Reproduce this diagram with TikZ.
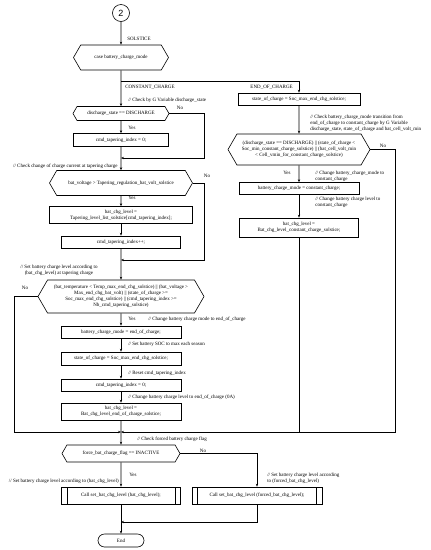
\documentclass[tikz,border=0pt]{standalone}
\usepackage{fontspec}
\setmainfont{Liberation Serif}
\setsansfont{Liberation Sans}
\usetikzlibrary{shapes.symbols,shapes.misc,arrows.meta}

\begin{document}
\begin{tikzpicture}[x=1pt,y=-1pt,line width=0.6pt,>={Stealth[length=3pt,width=2.4pt]},
        font=\fontsize{5}{6}\selectfont,
        box/.style={rectangle,draw,inner sep=1pt,align=center},
        dec/.style={signal,signal to=east and west,signal pointer angle=120,draw,inner sep=1pt,align=center},
        proc/.style={box,path picture={\draw ([xshift=5.5pt]path picture bounding box.north west) -- ([xshift=5.5pt]path picture bounding box.south west) ([xshift=-5.5pt]path picture bounding box.north east) -- ([xshift=-5.5pt]path picture bounding box.south east);}},
        term/.style={rounded rectangle,draw,inner sep=1pt},
        note/.style={inner sep=0pt,align=left}]
        \useasboundingbox (0,0) rectangle (431,550);
        \node [circle, draw, minimum size=17pt, inner sep=0pt, font=\sffamily\fontsize{9}{9}\selectfont] (1) at (121,13) {2};
        \node [dec, minimum width=95pt, minimum height=25pt] (2) at (121,57.5) {case battery\_charge\_mode};
        \node [box, minimum width=122pt, minimum height=12pt] (3) at (299,99) {state\_of\_charge = Soc\_max\_end\_chg\_solstice;};
        \node [dec, minimum width=96pt, minimum height=14pt] (4) at (121,113.5) {discharge\_state == DISCHARGE};
        \node [box, minimum width=95pt, minimum height=13pt] (5) at (121,140) {cmd\_tapering\_index = 0;};
        \node [dec, minimum width=143pt, minimum height=25pt] (6) at (121,183) {bat\_voltage > Tapering\_regulation\_bat\_volt\_solstice};
        \node [box, minimum width=143pt, minimum height=17pt] (7) at (121,215) {bat\_chg\_level =\\Tapering\_level\_list\_solstice[cmd\_tapering\_index];};
        \node [box, minimum width=119pt, minimum height=12pt] (8) at (121,242) {cmd\_tapering\_index++;};
        \node [dec, minimum width=166pt, minimum height=33pt] (9) at (121,296.5) {(bat\_temperature < Temp\_max\_end\_chg\_solstice) || (bat\_voltage >\\Max\_end\_chg\_bat\_volt) || (state\_of\_charge >=\\Soc\_max\_end\_chg\_solstice) || (cmd\_tapering\_index >=\\Nb\_cmd\_tapering\_solstice)};
        \node [box, minimum width=120pt, minimum height=12pt] (10) at (121,332) {battery\_charge\_mode = end\_of\_charge;};
        \node [box, minimum width=120pt, minimum height=13pt] (11) at (121,358.5) {state\_of\_charge = Soc\_max\_end\_chg\_solstice;};
        \node [box, minimum width=120pt, minimum height=12pt] (12) at (121,385) {cmd\_tapering\_index = 0;};
        \node [box, minimum width=120pt, minimum height=17pt] (13) at (121,411.5) {bat\_chg\_level =\\Bat\_chg\_level\_end\_of\_charge\_solstice;};
        \node [dec, minimum width=118pt, minimum height=17pt] (14) at (121,453.5) {force\_bat\_charge\_flag == INACTIVE};
        \node [proc, minimum width=119pt, minimum height=17pt] (15) at (121,495.5) {Call set\_bat\_chg\_level (bat\_chg\_level);};
        \node [proc, minimum width=130pt, minimum height=17pt] (16) at (257,495.5) {Call set\_bat\_chg\_level (forced\_bat\_chg\_level);};
        \node [term, minimum width=48pt, minimum height=13pt] (17) at (121,540.5) {End};
        \node [dec, minimum width=142pt, minimum height=31pt] (18) at (299,149.5) {(discharge\_state == DISCHARGE) || (state\_of\_charge <\\Soc\_min\_constant\_charge\_solstice) || (bat\_cell\_volt\_min\\< Cell\_vmin\_for\_constant\_charge\_solstice)};
        \node [box, minimum width=120pt, minimum height=12pt] (19) at (299,188.5) {battery\_charge\_mode = constant\_charge;};
        \node [box, minimum width=119pt, minimum height=19pt] (20) at (299,227.5) {bat\_chg\_level =\\Bat\_chg\_level\_constant\_charge\_solstice;};
        \coordinate (c1) at (121,81);
        \coordinate (k1) at (204,158);
        \coordinate (m1) at (121,158);
        \coordinate (k2) at (204,260);
        \coordinate (m2) at (121,260);
        \coordinate (k3) at (14,432);
        \coordinate (m3) at (121,432);
        \coordinate (k4) at (299,432);
        \coordinate (k5) at (395,432);
        \coordinate (k6) at (257,522);
        \coordinate (m4) at (121,522);
        \node [note, anchor=west] (l1) at (127,39) {SOLSTICE};
        \node [note, anchor=west] (l2) at (125,87) {CONSTANT\_CHARGE};
        \node [note, anchor=east] (l3) at (293,87) {END\_OF\_CHARGE};
        \node [note] (y1) at (132,128) {Yes};
        \node [note] (y2) at (132,198) {Yes};
        \node [note] (y3) at (132,319) {Yes};
        \node [note] (y4) at (287,173) {Yes};
        \node [note] (y5) at (133,475) {Yes};
        \node [note] (n1) at (180,108) {No};
        \node [note] (n2) at (207,176) {No};
        \node [note] (n3) at (25,288) {No};
        \node [note] (n4) at (383,146) {No};
        \node [note] (n5) at (203,451) {No};
        \node [note, anchor=west] (t1) at (128,100) {// Check by G Variable discharge\_state};
        \node [note, anchor=east] (t2) at (118,166) {// Check change of charge current at tapering charge};
        \node [note, align=center] (t3) at (59,270) {// Set battery charge level according to\\(bat\_chg\_level) at tapering charge};
        \node [note, anchor=west] (t4) at (148,319) {// Change battery charge mode to end\_of\_charge};
        \node [note, anchor=west] (t5) at (128,344) {// Set battery SOC to max each season};
        \node [note, anchor=west] (t6) at (128,373) {// Reset cmd\_tapering\_index};
        \node [note, anchor=west] (t7) at (128,397) {// Change battery charge level to end\_of\_charge (0A)};
        \node [note, anchor=west] (t8) at (137,439) {// Check forced battery charge flag};
        \node [note, anchor=east] (t9) at (119,481) {// Set battery charge level according to (bat\_chg\_level)};
        \node [note, anchor=west] (t10) at (267,478) {// Set battery charge level according\\to (forced\_bat\_chg\_level)};
        \node [note, anchor=west] (t11) at (310,123) {// Check battery\_charge\_mode transition from\\end\_of\_charge to constant\_charge by G Variable\\discharge\_state, state\_of\_charge and bat\_cell\_volt\_min};
        \node [note, anchor=west] (t12) at (315,176) {// Change battery\_charge\_mode to\\constant\_charge};
        \node [note, anchor=west] (t13) at (315,202.5) {// Change battery charge level to\\constant\_charge};
        \draw [->] (1) -- (2);
        \draw [->] (2) -- (4);
        \draw [->] (c1) -| (3);
        \draw [->] (4) -- (5);
        \draw [->] (4.east) -| (k1) -- (m1);
        \draw [->] (5) -- (6);
        \draw [->] (6) -- (7);
        \draw [->] (6.east) -| (k2) -- (m2);
        \draw [->] (7) -- (8);
        \draw [->] (8) -- (9);
        \draw [->] (9) -- (10);
        \draw [->] (9.west) -| (k3) -- (m3);
        \draw [->] (10) -- (11);
        \draw [->] (11) -- (12);
        \draw [->] (12) -- (13);
        \draw [->] (13) -- (14);
        \draw [->] (3) -- (18);
        \draw [->] (18) -- (19);
        \draw [->] (19) -- (20);
        \draw [->] (20) -- (k4) -- (m3);
        \draw (18.east) -| (k5) -- (k4);
        \draw [->] (14) -- (15);
        \draw [->] (14.east) -| (16.north);
        \draw [->] (15) -- (17);
        \draw [->] (16) -- (k6) -- (m4);
    \end{tikzpicture}
\end{document}
